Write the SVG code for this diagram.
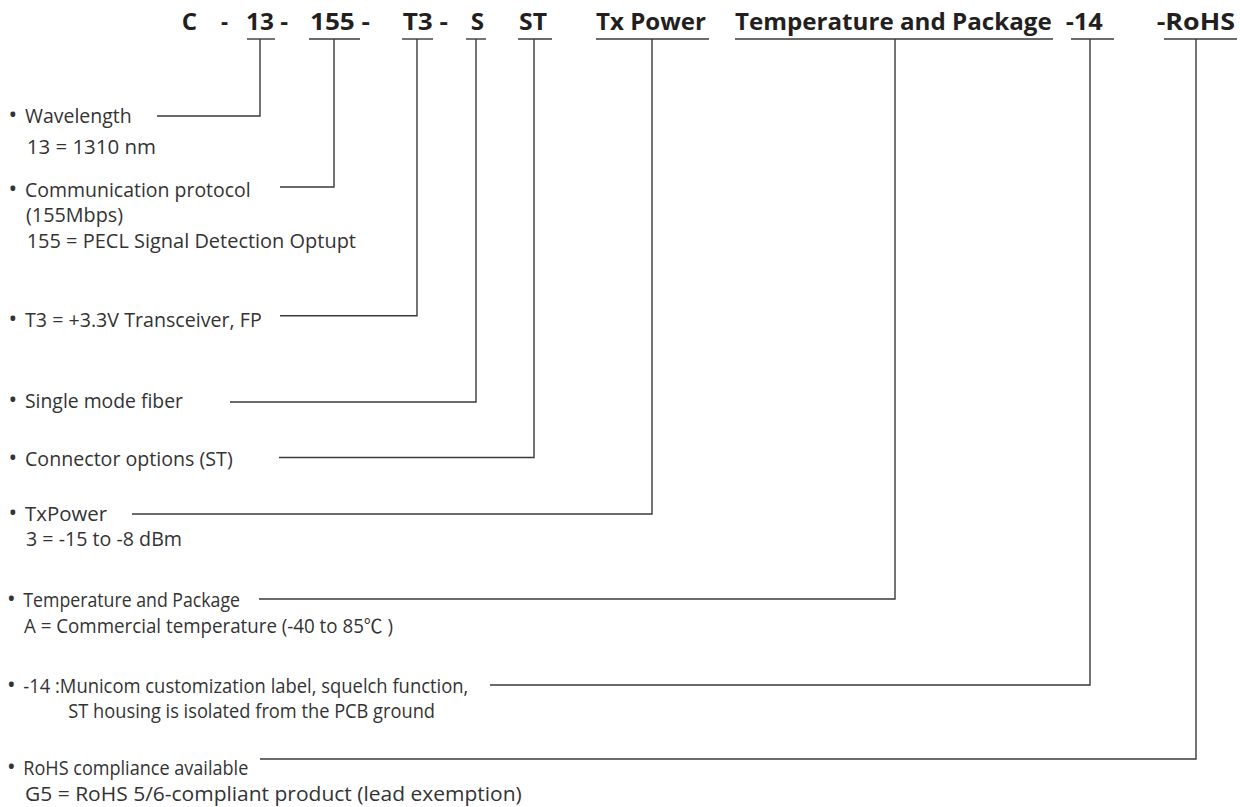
<svg xmlns="http://www.w3.org/2000/svg" width="1240" height="807" viewBox="0 0 1240 807">
<style>
.h{font-family:"Open Sans","Liberation Sans",Arial,sans-serif;font-weight:bold;font-size:24px;fill:#231f20}
.t{font-family:"Open Sans","Liberation Sans",Arial,"Noto Sans CJK SC",sans-serif;font-size:19.5px;fill:#333}
.b{font-size:23px}
.c{fill:none;stroke:#3a3a3a;stroke-width:1.4}
</style>
<rect width="1240" height="807" fill="#fff"/>
<g id="code">
<text class="h" x="181.7" y="30" textLength="15.3" lengthAdjust="spacingAndGlyphs">C</text>
<text class="h" x="221" y="30" textLength="7" lengthAdjust="spacingAndGlyphs">-</text>
<text class="h" x="246" y="30" textLength="42" lengthAdjust="spacingAndGlyphs">13 -</text>
<text class="h" x="310" y="30" textLength="60" lengthAdjust="spacingAndGlyphs">155 -</text>
<text class="h" x="402.7" y="30" textLength="45.3" lengthAdjust="spacingAndGlyphs">T3 -</text>
<text class="h" x="470.7" y="30" textLength="13.3" lengthAdjust="spacingAndGlyphs">S</text>
<text class="h" x="519" y="30" textLength="28" lengthAdjust="spacingAndGlyphs">ST</text>
<text class="h" x="596" y="30" textLength="110" lengthAdjust="spacingAndGlyphs">Tx Power</text>
<text class="h" x="735" y="30" textLength="316.7" lengthAdjust="spacingAndGlyphs">Temperature and Package</text>
<text class="h" x="1065.7" y="30" textLength="37" lengthAdjust="spacingAndGlyphs">-14</text>
<text class="h" x="1156.7" y="30" textLength="78.3" lengthAdjust="spacingAndGlyphs">-RoHS</text>
</g>
<g id="wavelength">
<text class="t" y="122.7"><tspan class="b" x="8.5">•</tspan><tspan x="25" textLength="106.7" lengthAdjust="spacingAndGlyphs">Wavelength</tspan></text>
<text class="t" x="26.7" y="154" textLength="129.3" lengthAdjust="spacingAndGlyphs">13 = 1310 nm</text>
</g>
<g id="protocol">
<text class="t" y="196.5"><tspan class="b" x="8.5">•</tspan><tspan x="25" textLength="225.7" lengthAdjust="spacingAndGlyphs">Communication protocol</tspan></text>
<text class="t" x="26" y="222" textLength="97" lengthAdjust="spacingAndGlyphs">(155Mbps)</text>
<text class="t" x="26.7" y="247.5" textLength="329.3" lengthAdjust="spacingAndGlyphs">155 = PECL Signal Detection Optupt</text>
</g>
<g id="transceiver">
<text class="t" y="326.7"><tspan class="b" x="8.5">•</tspan><tspan x="25" textLength="236.7" lengthAdjust="spacingAndGlyphs">T3 = +3.3V Transceiver, FP</tspan></text>
</g>
<g id="fiber">
<text class="t" y="408.3"><tspan class="b" x="8.5">•</tspan><tspan x="25" textLength="158" lengthAdjust="spacingAndGlyphs">Single mode fiber</tspan></text>
</g>
<g id="connector-options">
<text class="t" y="466"><tspan class="b" x="8.5">•</tspan><tspan x="25" textLength="207.7" lengthAdjust="spacingAndGlyphs">Connector options (ST)</tspan></text>
</g>
<g id="txpower">
<text class="t" y="520.5"><tspan class="b" x="8.5">•</tspan><tspan x="25" textLength="82" lengthAdjust="spacingAndGlyphs">TxPower</tspan></text>
<text class="t" x="26" y="546" textLength="156" lengthAdjust="spacingAndGlyphs">3 = -15 to -8 dBm</text>
</g>
<g id="temperature">
<text class="t" y="607"><tspan class="b" x="7">•</tspan><tspan x="23.3" textLength="216.7" lengthAdjust="spacingAndGlyphs">Temperature and Package</tspan></text>
<text class="t" x="24" y="632.7" textLength="369" lengthAdjust="spacingAndGlyphs">A = Commercial temperature (-40 to 85℃ )</text>
</g>
<g id="custom-14">
<text class="t" y="693"><tspan class="b" x="7">•</tspan><tspan x="23.3" textLength="445" lengthAdjust="spacingAndGlyphs">-14 :Municom customization label, squelch function,</tspan></text>
<text class="t" x="68.3" y="718.3" textLength="366.7" lengthAdjust="spacingAndGlyphs">ST housing is isolated from the PCB ground</text>
</g>
<g id="rohs">
<text class="t" y="775"><tspan class="b" x="7">•</tspan><tspan x="23.3" textLength="225" lengthAdjust="spacingAndGlyphs">RoHS compliance available</tspan></text>
<text class="t" x="25" y="800.5" textLength="496.7" lengthAdjust="spacingAndGlyphs">G5 = RoHS 5/6-compliant product (lead exemption)</text>
</g>
<g id="connectors" class="c">
<path d="M247 39H275"/><path d="M157 116H260V39"/>
<path d="M309 39H360"/><path d="M280 187H334V39"/>
<path d="M402 39H433"/><path d="M280 315.7H417V39"/>
<path d="M466 39H486"/><path d="M230 402H476V39"/>
<path d="M518 39H552"/><path d="M279 457.5H534V39"/>
<path d="M596 39H709"/><path d="M132 514H652V39"/>
<path d="M735 39H1053"/><path d="M259 599H895V39"/>
<path d="M1071 39H1114"/><path d="M490 685H1090V39"/>
<path d="M1164 39H1237"/><path d="M260 759H1196V39"/>
</g>
</svg>
